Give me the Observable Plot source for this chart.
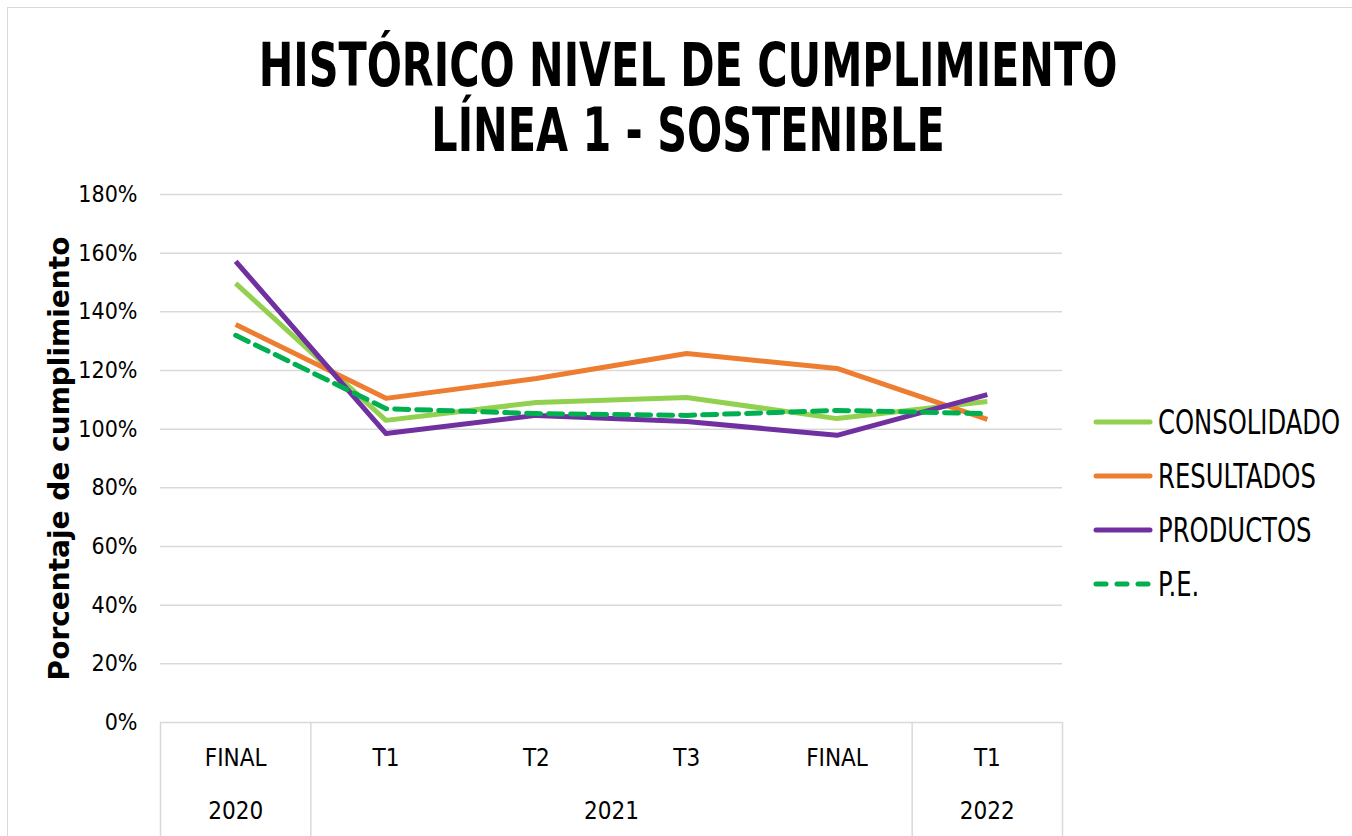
<!DOCTYPE html>
<html><head><meta charset="utf-8">
<script src="https://cdn.jsdelivr.net/npm/d3@7"></script>
<script src="https://cdn.jsdelivr.net/npm/@observablehq/plot@0.6"></script>
<style>
body{margin:0;background:#fff;}
#wrap{position:relative;width:1352px;height:836px;overflow:hidden;background:#fff;}
#border{position:absolute;left:7px;top:7px;width:1400px;height:900px;border-left:1.5px solid #d9d9d9;border-top:1.5px solid #d9d9d9;}
#title{position:absolute;left:24px;width:1328px;top:33px;text-align:center;font-family:"DejaVu Sans Condensed","DejaVu Sans",sans-serif;font-weight:bold;font-size:46px;line-height:50px;color:#000;transform:scale(1,1.3);transform-origin:top center;}
#legend{position:absolute;left:1093px;top:395px;font-family:"DejaVu Sans Condensed",sans-serif;font-size:27px;color:#000;}
.row{display:flex;align-items:center;height:54px;}
.row svg{margin-right:5px;}
.row span{display:inline-block;transform:scale(1,1.22);}
#chart{position:absolute;left:0;top:0;}
</style></head>
<body><div id="wrap"><div id="border"></div><div id="chart"></div><div id="title"></div><div id="legend"></div></div>
<script>
const categories = ["FINAL","T1","T2","T3","FINAL","T1"];
const years = ["2020","2021","2021","2021","2021","2022"];
const seriesNames = ["CONSOLIDADO","RESULTADOS","PRODUCTOS","P.E."];
const consolidado = [149.7,103.0,109.1,110.8,103.6,109.4];
const resultados = [135.7,110.5,117.3,125.8,120.7,103.3];
const productos = [157.2,98.5,104.7,102.6,97.9,111.8];
const pe = [132.0,107.0,105.3,104.7,106.4,105.3];
const yTicks = [0,20,40,60,80,100,120,140,160,180];
const titleLines = ["HISTÓRICO NIVEL DE CUMPLIMIENTO","LÍNEA 1 - SOSTENIBLE"];
const yLabel = "Porcentaje de cumplimiento";

const colors = {"CONSOLIDADO":"#92d050","RESULTADOS":"#ed7d31","PRODUCTOS":"#7030a0","P.E.":"#00b050"};
const dashes = {"CONSOLIDADO":null,"RESULTADOS":null,"PRODUCTOS":null,"P.E.":"14,8"};
const allSeries = [consolidado,resultados,productos,pe];

const rows = [];
seriesNames.forEach((s,k)=>allSeries[k].forEach((v,i)=>rows.push({series:s,i,v})));

const groups = [];
years.forEach((y,i)=>{
  const g = groups.find(g=>g.year===y);
  if (g) g.idx.push(i); else groups.push({year:y, idx:[i]});
});
groups.forEach(g=>{g.mid = (g.idx[0]+g.idx[g.idx.length-1])/2; g.start=g.idx[0]-0.5; g.end=g.idx[g.idx.length-1]+0.5;});
const separators = Array.from(new Set(groups.flatMap(g=>[g.start,g.end])));

const font = '"DejaVu Sans Condensed",sans-serif';
const lineMarks = seriesNames.map(s=>Plot.line(rows.filter(r=>r.series===s),{
  x:"i", y:"v", stroke: colors[s], strokeWidth:5, strokeDasharray: dashes[s], strokeLinecap: dashes[s]?"round":"butt", strokeLinejoin:"round"
}));

const chart = Plot.plot({
  width:1352, height:836,
  marginLeft:160, marginRight:290, marginTop:194, marginBottom:114,
  style:{fontFamily:font, background:"transparent", overflow:"visible"},
  x:{domain:[-0.5, categories.length-0.5], axis:null},
  y:{domain:[0,180], axis:null},
  marks:[
    Plot.ruleY(yTicks,{stroke:"#d9d9d9", strokeWidth:1.5}),
    Plot.ruleX(separators,{x:d=>d, stroke:"#d9d9d9", strokeWidth:1.5, insetTop:528, insetBottom:-114}),
    Plot.text(yTicks,{x:-0.5, y:d=>d, text:d=>d+"%", textAnchor:"end", dx:-23, fontSize:23, fill:"#000"}),
    Plot.text(categories.map((c,i)=>({c,i})),{x:"i", text:"c", frameAnchor:"bottom", dy:43, fontSize:24, fill:"#000"}),
    Plot.text(groups,{x:"mid", text:"year", frameAnchor:"bottom", dy:96, fontSize:24, fill:"#000"}),
    Plot.text([yLabel],{frameAnchor:"left", rotate:-90, dx:-100, textAnchor:"middle", fontSize:28, fontWeight:"bold", fontFamily:"DejaVu Sans", fill:"#000"}),
    ...lineMarks
  ]
});
document.getElementById("chart").appendChild(chart);
document.getElementById("title").innerHTML = titleLines.map(t=>`<div>${t}</div>`).join("");
document.getElementById("legend").innerHTML = seriesNames.map(s=>`<div class="row"><svg width="60" height="10"><line x1="3" y1="5" x2="57" y2="5" stroke="${colors[s]}" stroke-width="5" stroke-linecap="round" ${dashes[s]?'stroke-dasharray="10,11"':''}/></svg><span>${s}</span></div>`).join("");
</script></body></html>
